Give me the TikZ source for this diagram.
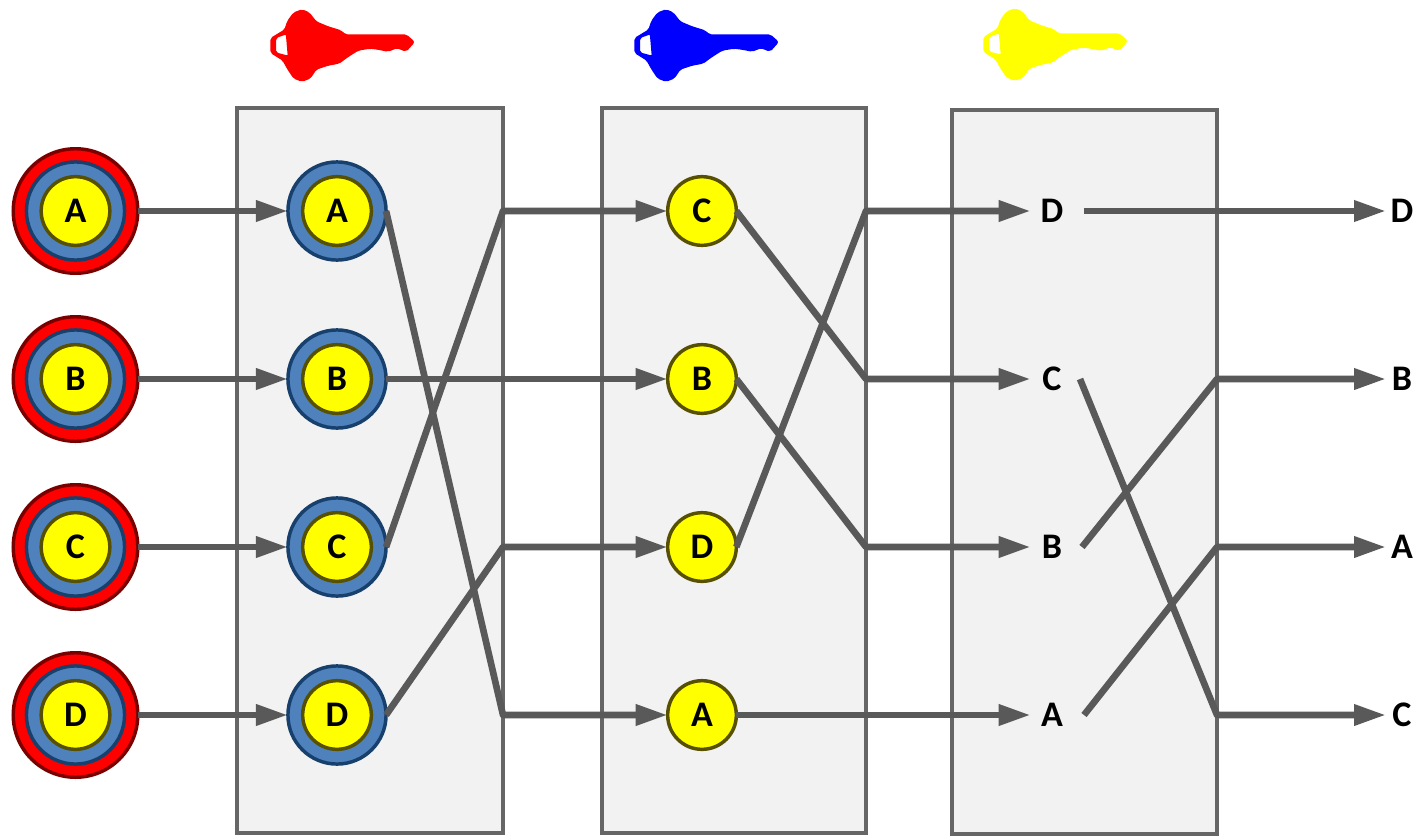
\documentclass[tikz,border=0pt]{standalone}
\usepackage{fontspec}
\setmainfont{Carlito}
\usetikzlibrary{arrows.meta}
\definecolor{boxgrey}{HTML}{666666}
\definecolor{boxfill}{HTML}{F2F2F2}
\definecolor{reddark}{HTML}{7A0000}
\definecolor{bluedark}{HTML}{17406D}
\definecolor{bluefill}{HTML}{4F81BD}
\definecolor{olivedark}{HTML}{565000}
\definecolor{linkgrey}{HTML}{595959}
\definecolor{keyred}{RGB}{255,0,0}
\definecolor{keyblue}{RGB}{0,0,255}
\definecolor{keyyellow}{RGB}{255,255,0}
\tikzset{
  px/.style={x=0.75pt,y=-0.75pt},
  stagebox/.style={draw=boxgrey,fill=boxfill,line width=3pt,rectangle,inner sep=0pt,outer sep=0pt},
  redring/.style={circle,draw=reddark,fill=keyred,line width=2.6pt,minimum size=93.4pt,inner sep=0pt,outer sep=0pt},
  bluering/.style={circle,draw=bluedark,fill=bluefill,line width=2.6pt,minimum size=73.6pt,inner sep=0pt,outer sep=0pt},
  yellowdisc/.style={circle,draw=olivedark,fill=keyyellow,line width=2.6pt,minimum size=51.5pt,inner sep=0pt,outer sep=0pt,font=\bfseries\fontsize{27}{27}\selectfont},
  midtext/.style={inner sep=0pt,outer sep=0pt,minimum width=32pt,minimum height=30pt,font=\bfseries\fontsize{27}{27}\selectfont},
  endtext/.style={inner sep=0pt,outer sep=0pt,minimum width=24pt,minimum height=30pt,font=\bfseries\fontsize{27}{27}\selectfont},
  link/.style={draw=linkgrey,line width=5pt,line join=round,-{Triangle[length=24pt,width=15pt]}},
}
\newcommand{\keyat}[3]{%
  \begin{scope}[shift={(#1,#2)}]
  \filldraw[fill=#3,draw=#3,line width=1.1pt,line join=round,rounded corners=1.5pt,even odd rule]
    (21,38.5) -- (35,30) -- (38,21) -- (44,13) -- (52,10) -- (59,13) -- (66,22) -- (78,27) -- (91,31) -- (95,35)
    -- (156,35) -- (164,42) -- (156,51) -- (147,47.5) -- (138,51) -- (128,49) -- (120,48) -- (108,50)
    -- (97,57) -- (89,63) -- (78,65) -- (66,69) -- (60,78) -- (52,81) -- (44,78) -- (38,69) -- (33,60) -- (21,52.5) -- cycle
    (25.5,37.5) -- (36.5,33.5) -- (38.5,56.5) -- (25.5,53) -- cycle;
  \end{scope}}
\begin{document}
\begin{tikzpicture}[px]
\useasboundingbox (0,0) rectangle (1418,836);
% stage boxes
\node[stagebox,minimum width=199.5pt,minimum height=543.75pt] (boxa) at (370,470.5) {};
\node[stagebox,minimum width=198pt,minimum height=543.75pt] (boxb) at (734,470.5) {};
\node[stagebox,minimum width=198.75pt,minimum height=543pt] (boxc) at (1084.5,472) {};
% keys
\keyat{250}{0}{keyred}
\keyat{614}{0}{keyblue}
\keyat{963}{-1}{keyyellow}
% sources
\foreach \n/\y in {A/211,B/379,C/547,D/715}{
  \node[redring] (r\n) at (75.5,\y) {};
  \node[bluering] at (75.5,\y) {};
  \node[yellowdisc] at (75.5,\y) {\n};
  \node[bluering] (s\n) at (337,\y) {};
  \node[yellowdisc] at (337,\y) {\n};
  \node[coordinate] (rowa\n) at (503,\y) {};
  \node[coordinate] (rowb\n) at (866,\y) {};
  \node[coordinate] (rowc\n) at (1217,\y) {};
}
% second column discs, ordered top to bottom
\node[yellowdisc] (tC) at (702,211) {C};
\node[yellowdisc] (tB) at (702,379) {B};
\node[yellowdisc] (tD) at (702,547) {D};
\node[yellowdisc] (tA) at (702,715) {A};
% third column
\node[midtext] (uD) at (1052,211) {D};
\node[midtext] (uC) at (1052,379) {C};
\node[midtext] (uB) at (1052,547) {B};
\node[midtext] (uA) at (1052,715) {A};
% outputs
\node[endtext] (vD) at (1402,211) {D};
\node[endtext] (vB) at (1402,379) {B};
\node[endtext] (vA) at (1402,547) {A};
\node[endtext] (vC) at (1402,715) {C};
% links
\foreach \n in {A,B,C,D}{ \draw[link] (r\n) -- (s\n); }
\draw[link] (sA.east) -- (rowaD) -- (tA);
\draw[link] (sB) -- (tB);
\draw[link] (sC.east) -- (rowaA) -- (tC);
\draw[link] (sD.east) -- (rowaC) -- (tD);
\draw[link] (tC.east) -- (rowbB) -- (uC);
\draw[link] (tB.east) -- (rowbC) -- (uB);
\draw[link] (tD.east) -- (rowbA) -- (uD);
\draw[link] (tA) -- (uA);
\draw[link] ([xshift=8pt]uD.east) -- (vD);
\draw[link] ([xshift=5pt]uC.east) -- (rowcD) -- (vC);
\draw[link] ([xshift=6.5pt]uB.east) -- (rowcB) -- (vB);
\draw[link] ([xshift=8pt]uA.east) -- (rowcC) -- (vA);
\end{tikzpicture}
\end{document}
